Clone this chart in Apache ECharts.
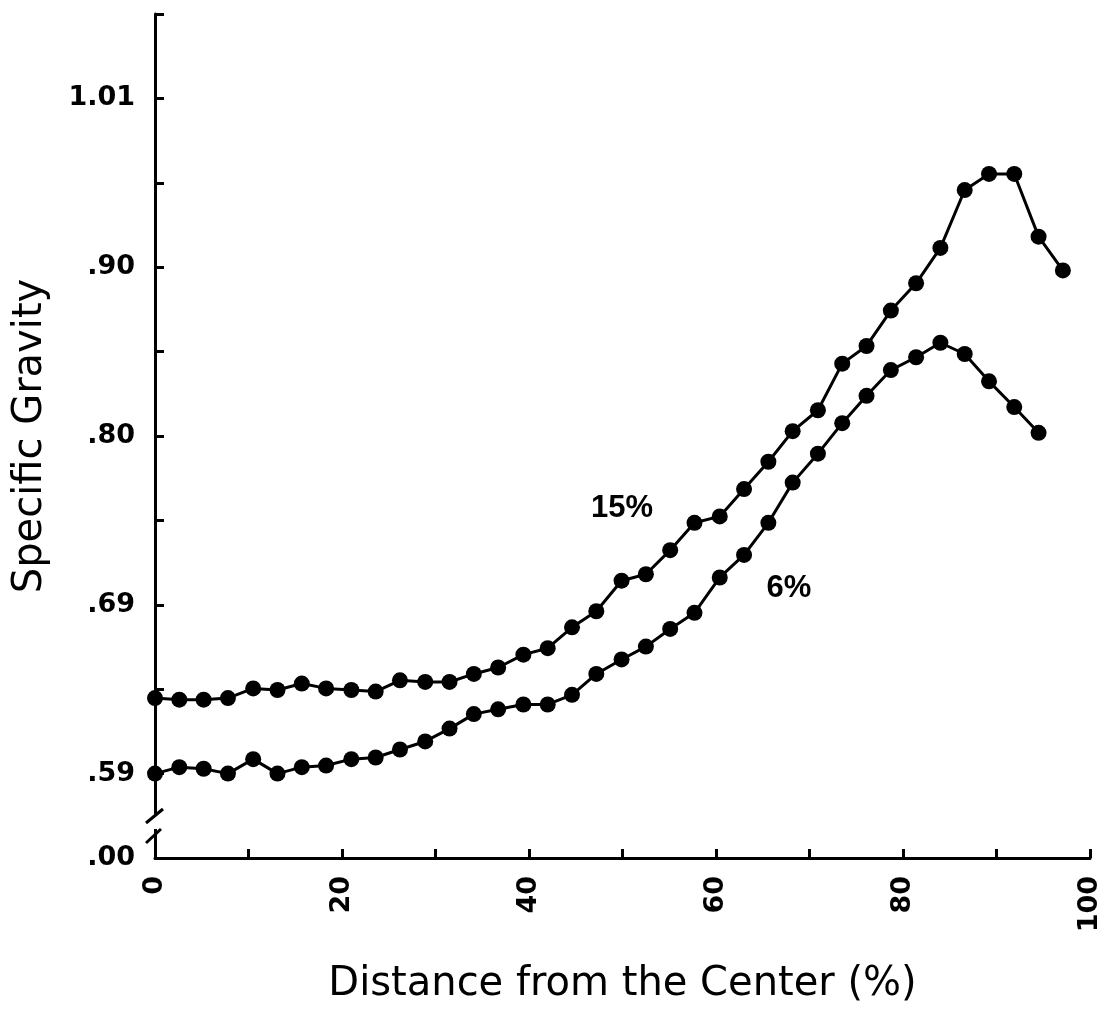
<!DOCTYPE html>
<html>
<head>
<meta charset="utf-8">
<title>Specific Gravity</title>
<script src="https://cdn.jsdelivr.net/npm/echarts@6/dist/echarts.min.js"></script>
<style>
  html, body { margin: 0; padding: 0; background: #fff; }
  #chart { width: 1111px; height: 1009px; }
</style>
</head>
<body>
<div id="chart"></div>
<script>
// distance from the center (%)
var distance = [0, 2.6, 5.2, 7.8, 10.5, 13.1, 15.7, 18.3, 21.0, 23.6,
  26.2, 28.9, 31.5, 34.1, 36.7, 39.4, 42.0, 44.6, 47.2, 49.9,
  52.5, 55.1, 57.7, 60.4, 63.0, 65.6, 68.2, 70.9, 73.5, 76.1,
  78.7, 81.4, 84.0, 86.6, 89.2, 91.9, 94.5, 97.1];

// specific gravity, 15% curve
var sg15 = [0.637, 0.636, 0.636, 0.637, 0.643, 0.642, 0.646, 0.643, 0.642, 0.641,
  0.648, 0.647, 0.647, 0.652, 0.656, 0.664, 0.668, 0.681, 0.691, 0.710,
  0.714, 0.729, 0.746, 0.750, 0.767, 0.784, 0.803, 0.816, 0.845, 0.856,
  0.878, 0.895, 0.917, 0.953, 0.963, 0.963, 0.924, 0.903];

// specific gravity, 6% curve
var sg6 = [0.590, 0.594, 0.593, 0.590, 0.599, 0.590, 0.594, 0.595, 0.599, 0.600,
  0.605, 0.610, 0.618, 0.627, 0.630, 0.633, 0.633, 0.639, 0.652, 0.661,
  0.669, 0.680, 0.690, 0.712, 0.726, 0.746, 0.771, 0.789, 0.808, 0.825,
  0.841, 0.849, 0.858, 0.851, 0.834, 0.818, 0.802];

// y tick labels (broken axis: .00 then .59 upwards)
var yTickPos = [-1, 0, 2, 4, 6, 8];
var yTickLabels = ['.00', '.59', '.69', '.80', '.90', '1.01'];

// axis is in tick steps: .59 at step 0, 0.0525 per step
function toAxis(sg){
    return (sg - 0.59) / 0.0525;
}

function makeData(vals){
    var out = [];
    for (var i = 0; i < vals.length; i++) {
        out.push([distance[i], toAxis(vals[i])]);
    }
    return out;
}

var myChart = echarts.init(document.getElementById('chart'));

var lineSeries = function(name, vals){
    return {
        name: name,
        type: 'line',
        data: makeData(vals),
        symbol: 'circle',
        symbolSize: 16,
        smooth: false,
        itemStyle: { color: '#000' },
        lineStyle: { color: '#000', width: 3 },
        animation: false
    };
};

var option = {
    backgroundColor: '#fff',
    animation: false,
    grid: {
        left: 155,
        right: 21,
        top: 14,
        bottom: 151,
        containLabel: false,
        outerBoundsMode: 'none'
    },
    xAxis: {
        type: 'value',
        min: 0,
        max: 100,
        interval: 10,
        name: 'Distance from the Center (%)',
        nameLocation: 'middle',
        nameGap: 107,
        nameMoveOverlap: false,
        nameTextStyle: {
            fontFamily: 'DejaVu Sans',
            fontSize: 40,
            color: '#000'
        },
        axisLine: { onZero: false, lineStyle: { color: '#000', width: 3 } },
        axisTick: { inside: true, length: 9, lineStyle: { color: '#000', width: 3 } },
        axisLabel: {
            rotate: 90,
            margin: 18,
            fontFamily: 'DejaVu Sans',
            fontWeight: 'bold',
            fontSize: 27,
            color: '#000',
            formatter: function(v){ return v % 20 === 0 ? String(v) : ''; }
        },
        splitLine: { show: false }
    },
    yAxis: {
        type: 'value',
        min: -1,
        max: 9,
        interval: 1,
        name: 'Specific Gravity',
        nameLocation: 'middle',
        nameGap: 104,
        nameMoveOverlap: false,
        nameTextStyle: {
            fontFamily: 'DejaVu Sans',
            fontSize: 40,
            color: '#000'
        },
        axisLine: { onZero: false, lineStyle: { color: '#000', width: 3 } },
        axisTick: { inside: true, length: 9, lineStyle: { color: '#000', width: 3 } },
        axisLabel: {
            margin: 20,
            fontFamily: 'DejaVu Sans',
            fontWeight: 'bold',
            fontSize: 27,
            color: '#000',
            formatter: function(v){
                var k = yTickPos.indexOf(Math.round(v));
                return k >= 0 ? yTickLabels[k] : '';
            }
        },
        splitLine: { show: false }
    },
    series: [lineSeries('15%', sg15), lineSeries('6%', sg6)],
    graphic: [
        // axis break
        { type: 'rect', shape: { x: 149, y: 814, width: 12, height: 15 }, style: { fill: '#fff' }, z: 100 },
        { type: 'line', shape: { x1: 146, y1: 823, x2: 163, y2: 809 }, style: { stroke: '#000', lineWidth: 3 }, z: 101 },
        { type: 'line', shape: { x1: 146, y1: 843, x2: 161, y2: 829 }, style: { stroke: '#000', lineWidth: 3 }, z: 101 },
        // curve labels
        { type: 'text', x: 622, y: 508, style: { text: '15%', fontFamily: 'Liberation Sans', fontWeight: 'bold', fontSize: 31, fill: '#000', align: 'center', verticalAlign: 'middle' }, z: 100 },
        { type: 'text', x: 789, y: 588, style: { text: '6%', fontFamily: 'Liberation Sans', fontWeight: 'bold', fontSize: 31, fill: '#000', align: 'center', verticalAlign: 'middle' }, z: 100 }
    ]
};

myChart.setOption(option);
</script>
</body>
</html>
